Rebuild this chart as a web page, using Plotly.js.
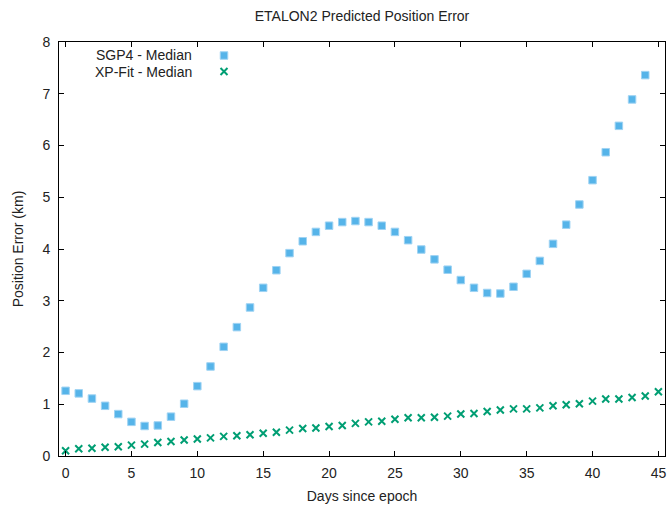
<!DOCTYPE html>
<html>
<head>
<meta charset="utf-8">
<script src="https://cdn.plot.ly/plotly-3.0.1.min.js"></script>
<style>
  html, body { margin: 0; padding: 0; background: #fff; }
  #chart { width: 668px; height: 506px; }
</style>
</head>
<body>
<div id="chart"></div>
<script>
// Days since epoch
const days = [0,1,2,3,4,5,6,7,8,9,10,11,12,13,14,15,16,17,18,19,20,21,22,23,
              24,25,26,27,28,29,30,31,32,33,34,35,36,37,38,39,40,41,42,43,44,45];

// SGP4 median position error (km), days 0..44
const sgp4Median = [1.26,1.21,1.11,0.97,0.81,0.66,0.58,0.59,0.76,1.01,
                    1.35,1.73,2.11,2.49,2.87,3.25,3.59,3.92,4.15,4.33,
                    4.45,4.52,4.54,4.52,4.45,4.33,4.17,3.99,3.80,3.60,
                    3.40,3.25,3.15,3.14,3.27,3.52,3.77,4.10,4.47,4.86,
                    5.33,5.87,6.38,6.89,7.36];

// XP-Fit median position error (km), days 0..45
const xpFitMedian = [0.10,0.14,0.15,0.17,0.18,0.21,0.23,0.26,0.28,0.31,
                     0.33,0.35,0.38,0.39,0.41,0.44,0.46,0.50,0.53,0.54,
                     0.57,0.59,0.63,0.66,0.67,0.71,0.74,0.74,0.75,0.77,
                     0.81,0.82,0.86,0.89,0.91,0.91,0.93,0.97,0.99,1.01,
                     1.06,1.10,1.10,1.13,1.16,1.24];

const seriesNames = ['SGP4 - Median', 'XP-Fit - Median'];
const xTicks = [0,5,10,15,20,25,30,35,40,45];
const yTicks = [0,1,2,3,4,5,6,7,8];

const FONT = 'Liberation Sans, Arial, sans-serif';
const FS = 14;
const TXT = '#222222';

// plot-area geometry in pixels (used to place legend pieces)
const L = 59, R = 3, T = 42, B = 50, W = 668, H = 506;
const PW = W - L - R, PH = H - T - B;
const px = v => (v - L) / PW;
const py = v => (H - B - v) / PH;

const traces = [
  {
    x: days.slice(0, sgp4Median.length),
    y: sgp4Median,
    type: 'scatter',
    mode: 'markers',
    name: '',
    legend: 'legend',
    marker: { symbol: 'square', size: 7.5, color: '#56B4E9',
              line: { color: '#9fd3f3', width: 1 } },
    hoverinfo: 'x+y'
  },
  {
    x: days,
    y: xpFitMedian,
    type: 'scatter',
    mode: 'markers',
    name: '',
    legend: 'legend2',
    marker: { symbol: 'x-thin-open', size: 7, color: '#009E73',
              line: { color: '#009E73', width: 2 } },
    hoverinfo: 'x+y'
  }
];

const legendBase = {
  xanchor: 'left', yanchor: 'top',
  bgcolor: 'rgba(0,0,0,0)', borderwidth: 0,
  font: { family: FONT, size: 12 },
  itemclick: false, itemdoubleclick: false
};

const layout = {
  width: W,
  height: H,
  margin: { l: L, r: R, t: T, b: B },
  paper_bgcolor: '#ffffff',
  plot_bgcolor: '#ffffff',
  font: { family: FONT, size: FS, color: TXT },
  title: {
    text: 'ETALON2 Predicted Position Error',
    font: { family: FONT, size: FS, color: TXT },
    xref: 'paper', x: 0.5, xanchor: 'center',
    yref: 'container', y: 1 - 16 / H, yanchor: 'middle'
  },
  xaxis: {
    range: [-0.5, 45.5],
    tickvals: xTicks,
    ticktext: xTicks.map(String),
    ticks: 'inside', ticklen: 5, tickwidth: 1, tickcolor: '#000',
    ticklabelstandoff: 4,
    showline: true, linecolor: '#000', linewidth: 1, mirror: 'ticks',
    showgrid: false, zeroline: false,
    tickfont: { family: FONT, size: FS, color: TXT },
    title: { text: 'Days since epoch', standoff: 11,
             font: { family: FONT, size: FS, color: TXT } }
  },
  yaxis: {
    range: [0, 8],
    tickvals: yTicks,
    ticktext: yTicks.map(String),
    ticks: 'inside', ticklen: 5, tickwidth: 1, tickcolor: '#000',
    ticklabelstandoff: 5,
    showline: true, linecolor: '#000', linewidth: 1, mirror: 'ticks',
    showgrid: false, zeroline: false,
    tickfont: { family: FONT, size: FS, color: TXT },
    title: { text: 'Position Error (km)', standoff: 15,
             font: { family: FONT, size: FS, color: TXT } }
  },
  showlegend: true,
  legend: Object.assign({ x: px(204), y: py(41) }, legendBase),
  legend2: Object.assign({ x: px(204), y: py(57) }, legendBase),
  annotations: [
    { text: seriesNames[0], xref: 'paper', yref: 'paper',
      x: px(194), y: py(55),
      xanchor: 'right', yanchor: 'middle', showarrow: false,
      font: { family: FONT, size: FS, color: TXT } },
    { text: seriesNames[1], xref: 'paper', yref: 'paper',
      x: px(194), y: py(71.5),
      xanchor: 'right', yanchor: 'middle', showarrow: false,
      font: { family: FONT, size: FS, color: TXT } }
  ]
};

Plotly.newPlot('chart', traces, layout, { staticPlot: true, displayModeBar: false });
</script>
</body>
</html>
